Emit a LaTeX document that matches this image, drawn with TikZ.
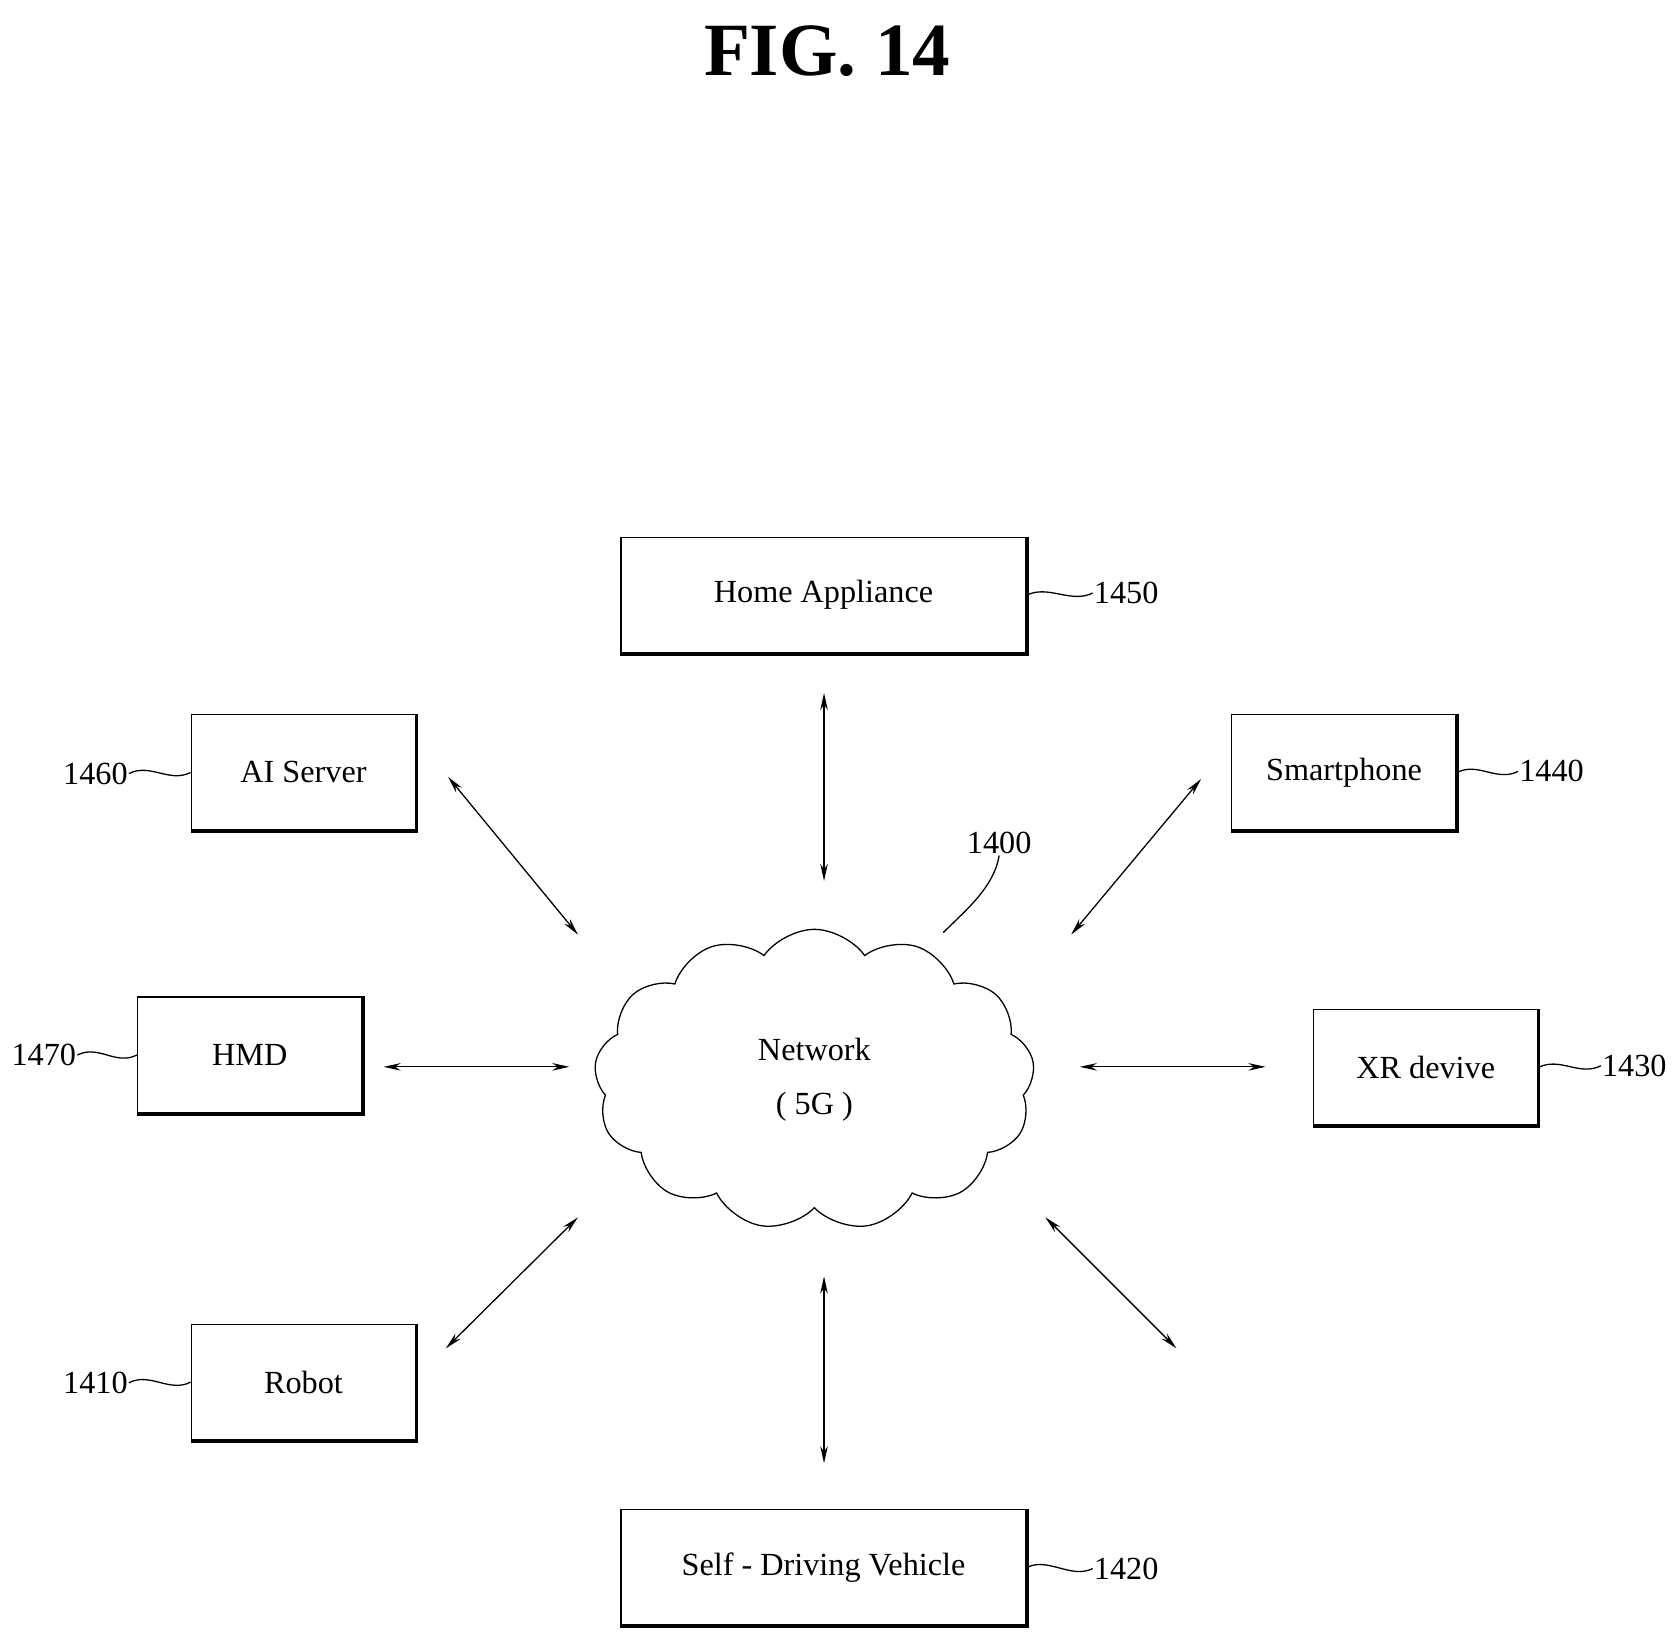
\documentclass[tikz,border=0pt]{standalone}
\usepackage{fontspec}
\setmainfont{Liberation Serif}
\usetikzlibrary{shapes.symbols,arrows.meta}
\begin{document}
\begin{tikzpicture}[x=1pt,y=-1pt,
  box/.style={draw,line width=1.2pt,minimum width=#1,minimum height=108pt,inner sep=0pt,font=\fontsize{30}{34}\selectfont},
  shadowedge/.style={line width=3.5pt},
  lab/.style={font=\fontsize{30}{34}\selectfont,inner sep=1pt},
  arr/.style={{Stealth[length=16pt,width=7pt]}-{Stealth[length=16pt,width=7pt]},line width=1.2pt},
  lead/.style={line width=1.2pt}]
\useasboundingbox (0,0) rectangle (1560,1528);
\node[font=\bfseries\fontsize{70}{76}\selectfont] (title) at (770,48) {FIG. 14};
\node[box=377pt] (ha) at (766.5,554) {Home Appliance};
\node[box=209pt] (ai) at (282.5,719) {AI Server};
\node[box=209pt] (sp) at (1251,719) {Smartphone};
\node[box=209pt] (hmd) at (232.5,982) {HMD};
\node[box=209pt] (xr) at (1327,993.5) {XR devive};
\node[box=209pt] (rb) at (282.5,1286.5) {Robot};
\node[box=377pt] (sdv) at (766.5,1459) {Self - Driving Vehicle};
\foreach \b in {ha,ai,sp,hmd,xr,rb,sdv}
  \draw[shadowedge] (\b.north east) -- (\b.south east) -- (\b.south west);
\node[cloud,draw,line width=1.2pt,cloud puffs=13,cloud puff arc=110,minimum width=410pt,minimum height=280pt,aspect=1.5,align=center,font=\fontsize{30}{50}\selectfont] (net) at (758,1005) {Network\\( 5G )};
% labels
\node[lab,anchor=west] (l1450) at (1017,552) {1450};
\node[lab,anchor=east] (l1460) at (120,720) {1460};
\node[lab,anchor=west] (l1440) at (1413,718) {1440};
\node[lab,anchor=east] (l1470) at (72,982) {1470};
\node[lab,anchor=west] (l1430) at (1490,992) {1430};
\node[lab,anchor=east] (l1410) at (120,1287) {1410};
\node[lab,anchor=west] (l1420) at (1017,1460) {1420};
\node[lab] (l1400) at (930,785) {1400};
\draw[lead] (ha.east) .. controls +(20,-10) and +(-20,10) .. (l1450.west);
\draw[lead] (sp.east) .. controls +(20,-10) and +(-20,10) .. (l1440.west);
\draw[lead] (xr.east) .. controls +(20,-10) and +(-20,10) .. (l1430.west);
\draw[lead] (sdv.east) .. controls +(20,-10) and +(-20,10) .. (l1420.west);
\draw[lead] (l1460.east) .. controls +(20,-10) and +(-20,10) .. (ai.west);
\draw[lead] (l1470.east) .. controls +(20,-10) and +(-20,10) .. (hmd.west);
\draw[lead] (l1410.east) .. controls +(20,-10) and +(-20,10) .. (rb.west);
\coordinate (c1400) at (878,868);
\draw[lead] (l1400.south) .. controls +(-5,30) and +(20,-20) .. (c1400);
% arrows
\coordinate (a1) at (767,645); \coordinate (a2) at (767,820);
\coordinate (b1) at (417,723); \coordinate (b2) at (538,870);
\coordinate (c1) at (1118,725); \coordinate (c2) at (997,870);
\coordinate (d1) at (357,993); \coordinate (d2) at (530,993);
\coordinate (e1) at (1005,993); \coordinate (e2) at (1178,993);
\coordinate (f1) at (415,1255); \coordinate (f2) at (538,1133);
\coordinate (g1) at (767,1188); \coordinate (g2) at (767,1362);
\coordinate (h1) at (973,1133); \coordinate (h2) at (1095,1255);
\foreach \p in {a,b,c,d,e,f,g,h} \draw[arr] (\p1) -- (\p2);
\end{tikzpicture}
\end{document}
